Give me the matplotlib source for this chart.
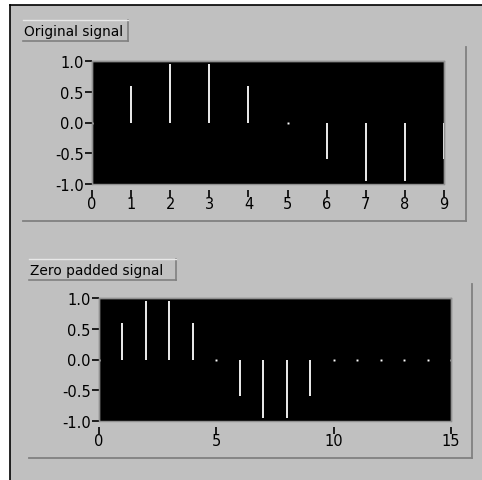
import matplotlib
matplotlib.use("Agg")
import matplotlib.pyplot as plt
from matplotlib.patches import Rectangle
from matplotlib.lines import Line2D

plt.rcParams['axes.unicode_minus'] = False
plt.rcParams['font.family'] = 'DejaVu Sans'

# Data
orig_x = [0, 1, 2, 3, 4, 5, 6, 7, 8, 9]
orig_y = [0.0, 0.59, 0.95, 0.95, 0.59, 0.0, -0.59, -0.95, -0.95, -0.59]
pad_x = [0, 1, 2, 3, 4, 5, 6, 7, 8, 9, 10, 11, 12, 13, 14, 15]
pad_y = [0.0, 0.59, 0.95, 0.95, 0.59, 0.0, -0.59, -0.95, -0.95, -0.59,
         0.0, 0.0, 0.0, 0.0, 0.0, 0.0]
titles = ["Original signal", "Zero padded signal"]
yticks = [-1.0, -0.5, 0.0, 0.5, 1.0]
xticks_orig = [0, 1, 2, 3, 4, 5, 6, 7, 8, 9]
xticks_pad = [0, 5, 10, 15]

W, H = 482, 481
fig = plt.figure(figsize=(W / 100, H / 100), dpi=100)
fig.patch.set_facecolor('white')

def fx(x):
    return x / W

def fy(y):
    return 1 - y / H

# grey panel background
fig.patches.append(Rectangle((fx(10), 0), 1 - fx(10), fy(6), transform=fig.transFigure,
                             facecolor='#c0c0c0', edgecolor='none', zorder=-5))
# black outer border lines
fig.lines.append(Line2D([fx(9.5), fx(9.5)], [0, fy(5.5)], transform=fig.transFigure,
                        color='black', lw=1.2, zorder=-1))
fig.lines.append(Line2D([fx(9.5), 1], [fy(5.5), fy(5.5)], transform=fig.transFigure,
                        color='black', lw=1.2, zorder=-1))

def label_box(x0, y0, x1, y1, text):
    fig.lines.append(Line2D([fx(x0), fx(x1)], [fy(y1), fy(y1)], transform=fig.transFigure,
                            color='#808080', lw=1.2, zorder=-1))
    fig.lines.append(Line2D([fx(x1), fx(x1)], [fy(y0), fy(y1)], transform=fig.transFigure,
                            color='#808080', lw=1.2, zorder=-1))
    fig.lines.append(Line2D([fx(x0), fx(x1)], [fy(y0), fy(y0)], transform=fig.transFigure,
                            color='#e8e8e8', lw=1.0, zorder=-1))
    fig.text(fx(x0 + 1), fy((y0 + y1) / 2 + 0.5), text, ha='left', va='center',
             fontsize=9.9, color='black')

def frame(x0, y0, x1, y1):
    fig.lines.append(Line2D([fx(x0), fx(x1)], [fy(y1), fy(y1)], transform=fig.transFigure,
                            color='#808080', lw=1.3, zorder=-1))
    fig.lines.append(Line2D([fx(x1), fx(x1)], [fy(y0), fy(y1)], transform=fig.transFigure,
                            color='#808080', lw=1.3, zorder=-1))

def make_axes(left, top, right, bottom, xs, ys, xticks, xmax):
    ax = fig.add_axes([fx(left), fy(bottom), fx(right - left), (bottom - top) / H])
    ax.set_zorder(5)
    ax.set_facecolor('black')
    ax.vlines(xs, 0, ys, color='white', lw=1.3, clip_on=True)
    zx = [x for x, y in zip(xs, ys) if y == 0]
    zy = [y for y in ys if y == 0]
    ax.plot(zx, zy, ls='none', marker='s', ms=1.4, color='white', mew=0)
    ax.set_xlim(0, xmax)
    ax.set_ylim(-1.0, 1.0)
    ax.set_yticks(yticks)
    ax.set_yticklabels([f"{v:.1f}" for v in yticks])
    ax.set_xticks(xticks)
    ax.set_xticklabels([str(v) for v in xticks])
    for s in ax.spines.values():
        s.set_color('#909090')
        s.set_linewidth(1.0)
    ax.spines['bottom'].set_position(('outward', 4))
    ax.spines['bottom'].set_visible(False)
    ax.patch.set_edgecolor('#909090')
    ax.patch.set_linewidth(1.0)
    ax.tick_params(axis='y', direction='out', length=5, width=1.2, color='black',
                   pad=1, labelsize=10.5, labelcolor='black')
    ax.tick_params(axis='x', direction='out', length=5, width=1.2, color='black',
                   pad=0, labelsize=10.5, labelcolor='black')
    return ax

# top panel
label_box(23, 21, 128, 41.5, titles[0])
frame(23, 48, 466, 222)
make_axes(92, 62, 444, 185, orig_x, orig_y, xticks_orig, 9)

# bottom panel
label_box(29, 260, 176, 281, titles[1])
frame(29, 285, 472, 458.5)
make_axes(99, 299, 451, 422, pad_x, pad_y, xticks_pad, 15)

fig.savefig('out.png', dpi=100, facecolor=fig.get_facecolor())
